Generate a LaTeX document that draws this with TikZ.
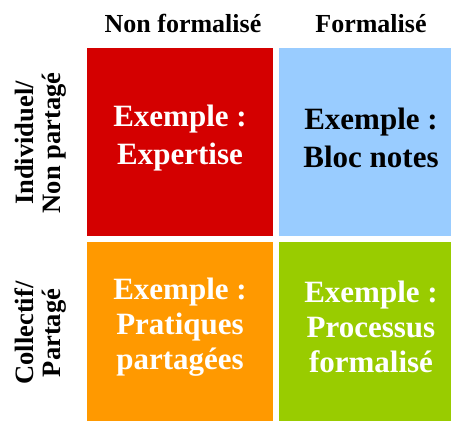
\documentclass[tikz,border=0pt]{standalone}
\usepackage{fontspec}
\setmainfont{Liberation Serif}
\definecolor{qred}{HTML}{D40000}
\definecolor{qblue}{HTML}{99CCFF}
\definecolor{qorange}{HTML}{FF9900}
\definecolor{qgreen}{HTML}{99CC00}
\begin{document}
\begin{tikzpicture}[x=1pt,y=-1pt,
  quad/.style={anchor=north west,inner sep=0pt,outer sep=0pt,minimum width=186pt,minimum height=188pt},
  quadtxt/.style={align=center,font=\fontsize{31}{38}\selectfont\bfseries},
  quadtxtb/.style={align=center,font=\fontsize{31}{35}\selectfont\bfseries},
  head/.style={font=\fontsize{26}{28}\selectfont\bfseries,anchor=base},
  side/.style={font=\fontsize{26.5}{27}\selectfont\bfseries,align=center,rotate=90}]
\useasboundingbox (0,0) rectangle (451,421);
\node[quad,fill=qred] (q1) at (87,48) {};
\node[quad,fill=qblue,minimum width=172pt] (q2) at (279,48) {};
\node[quad,fill=qorange,minimum height=179pt] (q3) at (87,242) {};
\node[quad,fill=qgreen,minimum width=172pt,minimum height=179pt] (q4) at (279,242) {};
\node[quadtxt,text=white] (t1) at (180,138) {Exemple :\\Expertise};
\node[quadtxt,text=black] (t2) at (371,138) {Exemple :\\Bloc notes};
\node[quadtxtb,text=white] (t3) at (180,327) {Exemple :\\Pratiques\\partagées};
\node[quadtxtb,text=white] (t4) at (371,327) {Exemple :\\Processus\\formalisé};
\node[head] (h1) at (183,32) {Non formalisé};
\node[head] (h2) at (371,32) {Formalisé};
\node[side] (s1) at (41,143) {Individuel/\\Non partagé};
\node[side] (s2) at (41,333) {Collectif/\\Partagé};
\end{tikzpicture}
\end{document}
